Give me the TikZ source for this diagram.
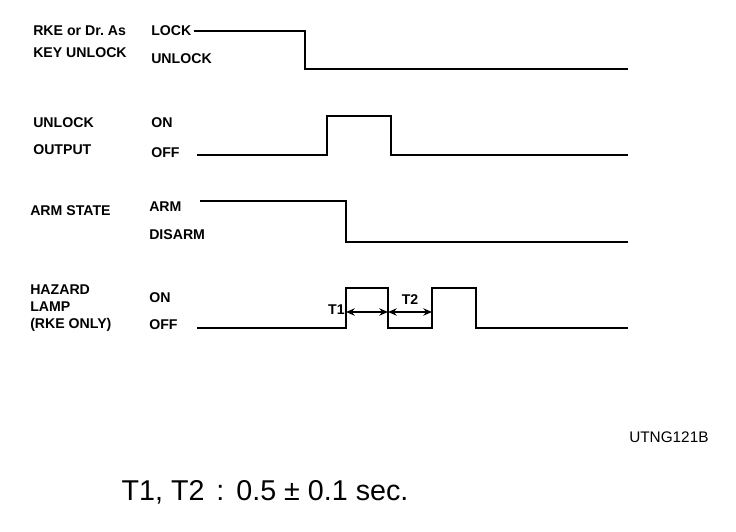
\documentclass[tikz,border=0pt]{standalone}
\usepackage{fontspec}
\setmainfont{Liberation Sans}
\usetikzlibrary{arrows.meta, positioning}

\begin{document}
\frenchspacing
\begin{tikzpicture}[
      x=0.75pt, y=-0.75pt,
      lbl/.style={anchor=west, inner sep=0pt, font=\fontsize{10.6}{12}\selectfont\bfseries},
      sig/.style={line width=1.2pt, line join=miter},
      dim/.style={{Stealth[length=6.5pt, width=5.5pt]}-{Stealth[length=6.5pt, width=5.5pt]}, line width=1.1pt}
    ]
    \useasboundingbox (0,0) rectangle (736,532);

    % signal names
    \node[lbl] (rke) at (33,31) {RKE or Dr.\ As};
    \node[lbl] (key) at (33,53) {KEY UNLOCK};
    \node[lbl] (unl) at (33,123) {UNLOCK};
    \node[lbl] (outp) at (33,150) {OUTPUT};
    \node[lbl] (arm) at (30,211) {ARM STATE};
    \node[lbl] (haz) at (30,290) {HAZARD};
    \node[lbl] (lamp) at (30,307) {LAMP};
    \node[lbl] (rkeonly) at (30,325) {(RKE ONLY)};

    % levels
    \node[lbl] (lock) at (151,31) {LOCK};
    \node[lbl] (unlock) at (151,59) {UNLOCK};
    \node[lbl] (on1) at (151,123) {ON};
    \node[lbl] (off1) at (151,153) {OFF};
    \node[lbl] (armlv) at (149,207) {ARM};
    \node[lbl] (disarm) at (149,235) {DISARM};
    \node[lbl] (on2) at (149,298) {ON};
    \node[lbl] (off2) at (149,325) {OFF};

    % waveforms
    \draw[sig] (lock.east) ++(2,0) -- (305,31) -- (305,69) -- (628,69);
    \draw[sig] (197,155) -- (327,155) -- (327,116) -- (391,116) -- (391,155) -- (628,155);
    \draw[sig] (200,201) -- (346,201) -- (346,242) -- (628,242);
    \draw[sig] (197,328) -- (346,328) -- (346,288) -- (388,288) -- (388,328)
      -- (432,328) -- (432,288) -- (476,288) -- (476,328) -- (628,328);

    % timing
    \coordinate (t1a) at (346,312);
    \coordinate (t1b) at (388,312);
    \coordinate (t2b) at (432,312);
    \draw[dim] (t1a) -- (t1b);
    \draw[dim] (t1b) -- (t2b);
    \node[lbl, anchor=east] (t1) at (345,310) {T1};
    \node[lbl, anchor=south] (t2) at (410,305) {T2};

    \node[lbl, font=\fontsize{11.5}{13}\selectfont] (code) at (629,437) {UTNG121B};
    \node[font=\fontsize{21.5}{25}\selectfont, inner sep=0pt] (note) at (265,492) {T1, T2\hspace{9pt}:\hspace{9pt}0.5 ± 0.1 sec.};
  \end{tikzpicture}
\end{document}
